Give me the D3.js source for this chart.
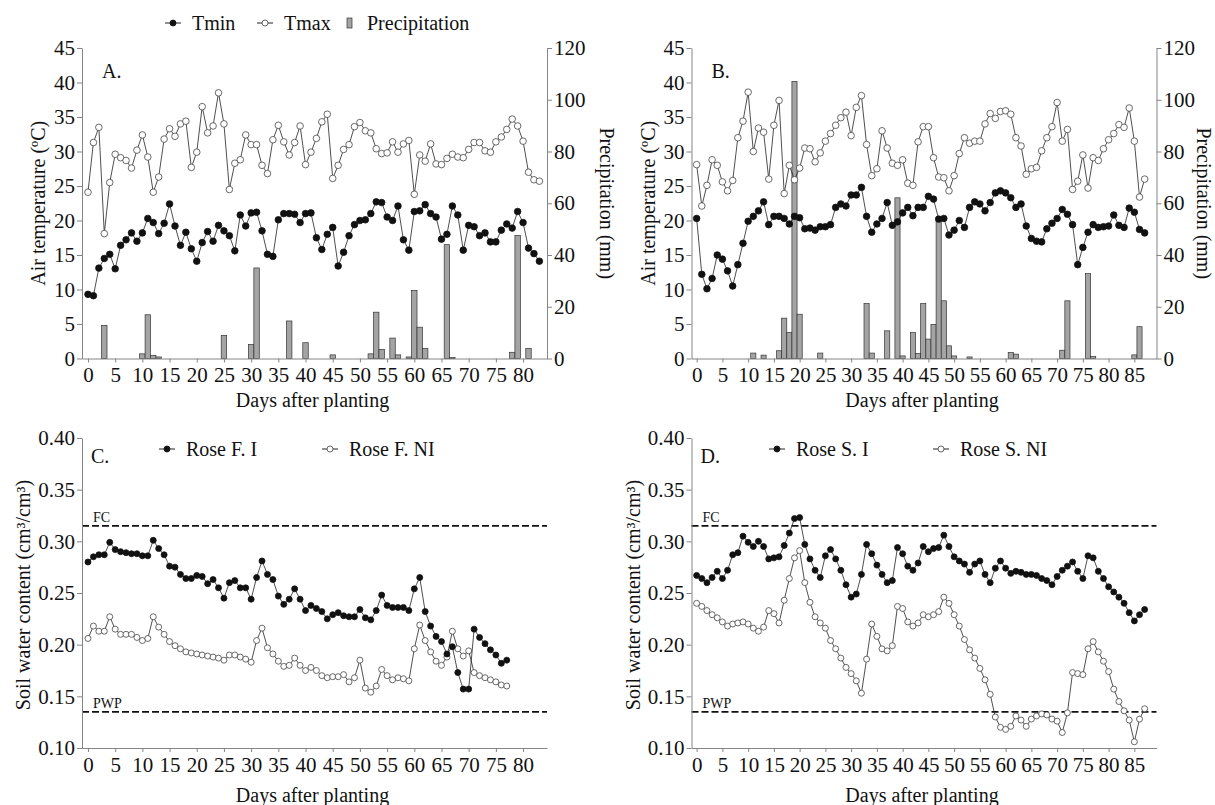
<!DOCTYPE html>
<html>
<head>
<meta charset="utf-8">
<script src="https://cdn.jsdelivr.net/npm/d3@7/dist/d3.min.js"></script>
<style>
  body { margin: 0; background: #fff; }
  svg, svg text { font-family: "Liberation Serif", Tinos, "Times New Roman", "DejaVu Serif", serif; fill: #111; }
</style>
</head>
<body>
<div id="chart"></div>
<script>
// ---- data, index = days after planting ----
const tminA = [9.3, 9.1, 13.1, 14.5, 15.1, 13.0, 16.4, 17.2, 18.2, 17.0,
  18.2, 20.3, 19.7, 18.1, 19.6, 22.4, 19.2, 16.4, 18.3, 15.9,
  14.1, 16.8, 18.4, 17.0, 19.3, 18.5, 17.8, 15.6, 20.8, 19.2,
  21.1, 21.2, 18.5, 15.1, 14.8, 20.1, 21.0, 21.0, 20.9, 19.7,
  21.0, 21.1, 17.5, 15.8, 18.0, 19.0, 13.4, 15.4, 17.8, 19.4,
  20.0, 20.1, 21.0, 22.7, 22.6, 20.5, 20.0, 22.1, 17.2, 15.7,
  21.3, 21.4, 22.3, 21.0, 20.5, 17.3, 18.0, 22.1, 20.8, 15.7,
  19.3, 19.1, 17.8, 18.2, 16.9, 16.9, 18.6, 19.5, 18.9, 21.3,
  19.7, 16.0, 15.2, 14.1];
const tmaxA = [24.1, 31.3, 33.5, 18.1, 25.5, 29.6, 29.1, 28.7, 27.6, 30.2,
  32.4, 29.2, 24.1, 26.3, 31.8, 33.3, 32.2, 34.0, 34.4, 27.7,
  29.9, 36.5, 32.7, 33.7, 38.5, 34.0, 24.5, 28.3, 28.8, 32.4,
  31.0, 31.0, 28.0, 26.8, 31.7, 33.8, 31.4, 29.5, 31.3, 33.7,
  28.1, 29.9, 31.9, 34.3, 35.4, 26.1, 28.0, 30.3, 31.0, 33.6,
  34.2, 33.0, 32.7, 30.4, 29.7, 29.8, 31.4, 29.9, 31.1, 31.6,
  23.8, 29.5, 28.6, 31.1, 28.2, 28.1, 29.0, 29.6, 29.2, 29.1,
  30.3, 31.3, 31.3, 30.1, 29.9, 31.4, 32.1, 33.2, 34.7, 33.7,
  31.5, 27.0, 25.9, 25.7];
const rainDaysA = [3, 10, 11, 12, 13, 25, 30, 31, 37, 40, 45, 52, 53, 54, 56, 57, 59, 60, 61, 62, 66, 67, 78, 79, 81];
const rainA = [12.8, 1.8, 16.9, 1.2, 0.6, 8.9, 5.4, 35.0, 14.5, 6.1, 1.4, 1.8, 17.9, 3.5, 7.9, 1.4, 0.6, 26.3, 12.1, 3.9, 44.0, 0.4, 2.4, 47.6, 3.9];

const tminB = [20.3, 12.2, 10.1, 11.6, 15.0, 14.4, 12.7, 10.5, 13.6, 16.7,
  19.9, 20.6, 21.4, 22.7, 19.4, 20.6, 20.6, 20.3, 19.5, 20.6,
  20.4, 18.8, 18.9, 18.6, 19.1, 19.1, 19.4, 21.9, 22.4, 22.1,
  23.7, 23.7, 24.8, 20.6, 18.3, 19.5, 20.3, 22.6, 19.3, 19.8,
  21.1, 21.9, 20.7, 21.9, 21.9, 23.5, 23.1, 20.2, 20.3, 17.9,
  18.6, 20.0, 19.0, 21.9, 22.7, 22.4, 21.4, 22.6, 24.0, 24.3,
  24.0, 23.3, 21.9, 22.4, 19.2, 17.4, 17.0, 16.9, 18.8, 19.6,
  20.3, 21.6, 20.9, 19.4, 13.6, 16.1, 18.3, 19.4, 19.0, 19.1,
  19.2, 20.8, 19.3, 19.0, 21.8, 21.2, 18.7, 18.2];
const tmaxB = [28.1, 22.1, 25.1, 28.8, 28.0, 25.6, 24.3, 25.8, 32.0, 34.4,
  38.6, 30.0, 33.4, 32.8, 26.0, 33.8, 37.4, 23.9, 28.0, 25.9,
  27.6, 30.5, 30.4, 28.5, 29.8, 31.5, 32.6, 33.8, 34.9, 35.7,
  32.3, 36.4, 38.1, 31.0, 26.5, 27.5, 33.0, 30.5, 28.3, 28.0,
  28.8, 25.4, 25.1, 31.4, 33.6, 33.6, 29.1, 26.3, 26.2, 24.3,
  26.5, 29.7, 32.0, 31.2, 31.5, 31.5, 34.0, 35.5, 34.8, 35.8,
  35.9, 35.4, 32.0, 30.8, 26.7, 27.5, 27.7, 30.1, 32.0, 33.6,
  37.1, 31.5, 33.2, 24.5, 25.7, 29.5, 24.7, 29.1, 28.7, 30.4,
  31.7, 32.6, 33.9, 33.5, 36.3, 31.5, 23.4, 26.0];
const rainDaysB = [11, 13, 16, 17, 18, 19, 20, 24, 33, 34, 37, 39, 40, 42, 43, 44, 45, 46, 47, 48, 49, 50, 53, 61, 62, 71, 72, 76, 77, 85, 86];
const rainB = [2.1, 1.3, 3.0, 15.6, 10.0, 107.1, 17.1, 2.1, 21.2, 2.1, 10.7, 62.1, 1.0, 10.0, 1.9, 21.2, 7.5, 13.2, 53.1, 22.3, 4.9, 1.0, 0.6, 2.3, 1.7, 3.2, 22.3, 32.8, 0.8, 1.4, 12.3];

const roseFI = [0.280, 0.285, 0.287, 0.287, 0.299, 0.292, 0.290, 0.289, 0.288, 0.288,
  0.286, 0.286, 0.301, 0.293, 0.287, 0.276, 0.275, 0.268, 0.264, 0.264,
  0.267, 0.266, 0.259, 0.263, 0.255, 0.245, 0.260, 0.262, 0.255, 0.255,
  0.244, 0.265, 0.281, 0.268, 0.263, 0.247, 0.239, 0.244, 0.254, 0.244,
  0.233, 0.238, 0.235, 0.232, 0.225, 0.229, 0.231, 0.228, 0.227, 0.227,
  0.234, 0.226, 0.224, 0.233, 0.248, 0.238, 0.236, 0.236, 0.236, 0.233,
  0.254, 0.265, 0.232, 0.218, 0.208, 0.203, 0.191, 0.198, 0.173, 0.157,
  0.157, 0.215, 0.207, 0.201, 0.195, 0.190, 0.182, 0.185];
const roseFNI = [0.206, 0.218, 0.213, 0.213, 0.227, 0.215, 0.210, 0.210, 0.210, 0.207,
  0.204, 0.206, 0.227, 0.217, 0.210, 0.203, 0.199, 0.196, 0.193, 0.192,
  0.191, 0.190, 0.189, 0.188, 0.187, 0.185, 0.190, 0.190, 0.188, 0.186,
  0.183, 0.204, 0.216, 0.197, 0.191, 0.184, 0.179, 0.180, 0.187, 0.180,
  0.175, 0.178, 0.175, 0.170, 0.168, 0.169, 0.169, 0.171, 0.164, 0.168,
  0.185, 0.158, 0.154, 0.160, 0.176, 0.170, 0.166, 0.168, 0.167, 0.165,
  0.196, 0.219, 0.204, 0.193, 0.184, 0.180, 0.188, 0.213, 0.196, 0.189,
  0.194, 0.173, 0.170, 0.168, 0.166, 0.164, 0.161, 0.160];
const roseSI = [0.267, 0.264, 0.260, 0.265, 0.271, 0.264, 0.272, 0.287, 0.289, 0.305,
  0.299, 0.295, 0.300, 0.295, 0.283, 0.284, 0.285, 0.296, 0.308, 0.322,
  0.323, 0.297, 0.283, 0.272, 0.265, 0.286, 0.292, 0.283, 0.272, 0.258,
  0.246, 0.249, 0.268, 0.297, 0.288, 0.277, 0.268, 0.260, 0.262, 0.294,
  0.288, 0.276, 0.272, 0.279, 0.295, 0.290, 0.293, 0.294, 0.306, 0.295,
  0.285, 0.281, 0.278, 0.270, 0.278, 0.281, 0.268, 0.260, 0.274, 0.281,
  0.274, 0.269, 0.271, 0.270, 0.268, 0.268, 0.267, 0.264, 0.262, 0.258,
  0.266, 0.272, 0.276, 0.280, 0.271, 0.264, 0.286, 0.284, 0.271, 0.264,
  0.256, 0.251, 0.246, 0.240, 0.231, 0.223, 0.229, 0.234];
const roseSNI = [0.240, 0.237, 0.233, 0.229, 0.226, 0.222, 0.218, 0.220, 0.221, 0.222,
  0.220, 0.216, 0.213, 0.217, 0.233, 0.230, 0.221, 0.243, 0.264, 0.284,
  0.291, 0.260, 0.241, 0.227, 0.221, 0.216, 0.204, 0.196, 0.187, 0.178,
  0.172, 0.165, 0.153, 0.186, 0.220, 0.208, 0.196, 0.194, 0.199, 0.237,
  0.235, 0.222, 0.218, 0.221, 0.229, 0.227, 0.229, 0.232, 0.246, 0.240,
  0.229, 0.218, 0.205, 0.195, 0.187, 0.177, 0.166, 0.152, 0.130, 0.120,
  0.118, 0.121, 0.131, 0.127, 0.121, 0.128, 0.131, 0.133, 0.132, 0.128,
  0.126, 0.115, 0.134, 0.173, 0.172, 0.171, 0.196, 0.203, 0.193, 0.184,
  0.174, 0.157, 0.145, 0.136, 0.127, 0.106, 0.128, 0.138];

const limitValues = [0.315, 0.135];
const limitNames = ["FC", "PWP"];

const tempTicks = [0, 5, 10, 15, 20, 25, 30, 35, 40, 45];
const rainTicks = [0, 20, 40, 60, 80, 100, 120];
const soilTicks = [0.10, 0.15, 0.20, 0.25, 0.30, 0.35, 0.40];
const dayTicksA = [0, 5, 10, 15, 20, 25, 30, 35, 40, 45, 50, 55, 60, 65, 70, 75, 80];
const dayTicksB = [0, 5, 10, 15, 20, 25, 30, 35, 40, 45, 50, 55, 60, 65, 70, 75, 80, 85];

// ---- drawing ----
const width = 1215, height = 805;
const serif = "'Liberation Serif', Tinos, 'Times New Roman', 'DejaVu Serif', serif";
const axisGrey = "#858585";
const barFill = "#a4a4a4";

const svg = d3.select("#chart").append("svg")
  .attr("width", width)
  .attr("height", height)
  .style("font-family", serif);

function styleAxis(g) {
  g.attr("font-family", null).attr("font-size", 21).style("font-family", serif);
  g.select(".domain").attr("stroke", axisGrey);
  g.selectAll(".tick line").attr("stroke", axisGrey);
  g.selectAll(".tick text").attr("fill", "#111").style("font-family", serif);
}

function xAxis(x, y0, ticks) {
  svg.append("g")
    .attr("transform", `translate(0,${y0})`)
    .call(d3.axisBottom(x).tickValues(ticks).tickSize(4).tickSizeOuter(0).tickPadding(5))
    .call(styleAxis);
}

function addText(str, x, y, size, rot, anchor) {
  return svg.append("text")
    .attr("transform", `translate(${x},${y}) rotate(${rot || 0})`)
    .attr("text-anchor", anchor || "start")
    .attr("font-size", size)
    .style("font-family", serif)
    .text(str);
}

function markerLegend(x, y, filled, label) {
  svg.append("line").attr("x1", x - 8).attr("x2", x + 8).attr("y1", y).attr("y2", y)
    .attr("stroke", "#222").attr("stroke-width", 1);
  svg.append("circle").attr("cx", x).attr("cy", y).attr("r", 3)
    .attr("fill", filled ? "#111" : "#fff")
    .attr("stroke", filled ? "#111" : "#444").attr("stroke-width", 0.8);
  addText(label, x + 19, y + 7, 20);
}

function series(g, x, y, values, filled, r) {
  const line = d3.line().x((d, i) => x(i)).y(d => y(d));
  g.append("path").datum(values)
    .attr("fill", "none").attr("stroke", "#222").attr("stroke-width", 0.8)
    .attr("d", line);
  g.selectAll(null).data(values).join("circle")
    .attr("cx", (d, i) => x(i)).attr("cy", d => y(d)).attr("r", r)
    .attr("fill", filled ? "#111" : "#fff")
    .attr("stroke", filled ? "#111" : "#444")
    .attr("stroke-width", 0.8);
}

function climatePanel(p) {
  const x = d3.scaleLinear().domain(p.xDomain).range([p.left, p.right]);
  const yT = d3.scaleLinear().domain([0, 45]).range([p.bottom, p.top]);
  const yP = d3.scaleLinear().domain([0, 120]).range([p.bottom, p.top]);
  const g = svg.append("g");
  const bw = x(1) - x(0);

  g.selectAll("rect").data(d3.zip(p.rainDays, p.rain)).join("rect")
    .attr("x", d => x(d[0]) - bw / 2)
    .attr("y", d => yP(d[1]))
    .attr("width", bw)
    .attr("height", d => yP(0) - yP(d[1]))
    .attr("fill", barFill)
    .attr("stroke", "#333")
    .attr("stroke-width", 0.7);

  series(g, x, yT, p.tmax, false, 3.3);
  series(g, x, yT, p.tmin, true, 3.3);

  svg.append("g").attr("transform", `translate(${p.left},0)`)
    .call(d3.axisLeft(yT).tickValues(tempTicks).tickSize(5).tickSizeOuter(0).tickPadding(2))
    .call(styleAxis);
  svg.append("g").attr("transform", `translate(${p.right},0)`)
    .call(d3.axisRight(yP).tickValues(rainTicks).tickSize(5).tickSizeOuter(0).tickPadding(2))
    .call(styleAxis);
  xAxis(x, p.bottom, p.dayTicks);

  addText(p.label, p.left + 20, 78, 20);
  addText("Air temperature (ºC)", p.left - 37, (p.top + p.bottom) / 2, 20, -90, "middle");
  addText("Precipitation (mm)", p.rightTitleX, (p.top + p.bottom) / 2, 20, 90, "middle");
  addText("Days after planting", (p.left + p.right) / 2 - 2, 407, 20, 0, "middle");
}

function soilPanel(p) {
  const x = d3.scaleLinear().domain(p.xDomain).range([p.left, p.right]);
  const y = d3.scaleLinear().domain([0.10, 0.40]).range([p.bottom, p.top]);
  const g = svg.append("g");

  limitValues.forEach((v, i) => {
    g.append("line")
      .attr("x1", p.left).attr("x2", p.right)
      .attr("y1", y(v)).attr("y2", y(v))
      .attr("stroke", "#111").attr("stroke-width", 1.8)
      .attr("stroke-dasharray", "7,3");
    addText(limitNames[i], p.left + 11, y(v) - 4, 14);
  });

  series(g, x, y, p.ni, false, 3.0);
  series(g, x, y, p.irr, true, 3.0);

  svg.append("g").attr("transform", `translate(${p.left},0)`)
    .call(d3.axisLeft(y).tickValues(soilTicks).tickFormat(d3.format(".2f"))
      .tickSize(5).tickSizeOuter(0).tickPadding(2))
    .call(styleAxis);
  xAxis(x, p.bottom, p.dayTicks);

  addText(p.label, p.left + 9, p.top + 25, 20);
  addText("Soil water content (cm³/cm³)", p.titleX, (p.top + p.bottom) / 2 + 2, 20, -90, "middle");
  addText("Days after planting", (p.left + p.right) / 2 - 2, 802, 20, 0, "middle");

  markerLegend(p.leg1, p.top + 11, true, p.names[0]);
  markerLegend(p.leg2, p.top + 11, false, p.names[1]);
}

// top legend
markerLegend(173, 23, true, "Tmin");
markerLegend(265, 23, false, "Tmax");
svg.append("rect").attr("x", 347).attr("y", 18).attr("width", 5).attr("height", 10)
  .attr("fill", barFill).attr("stroke", "#333").attr("stroke-width", 0.7);
addText("Precipitation", 367, 30, 20);

climatePanel({
  left: 82, right: 547, top: 48, bottom: 358.5, xDomain: [-1.1, 84.4],
  tmin: tminA, tmax: tmaxA, rainDays: rainDaysA, rain: rainA,
  dayTicks: dayTicksA, label: "A.", rightTitleX: 600
});
climatePanel({
  left: 691.5, right: 1156.5, top: 48, bottom: 358.5, xDomain: [-1, 89.3],
  tmin: tminB, tmax: tmaxB, rainDays: rainDaysB, rain: rainB,
  dayTicks: dayTicksB, label: "B.", rightTitleX: 1197
});
soilPanel({
  left: 82, right: 547, top: 438, bottom: 748, xDomain: [-1.1, 84.4],
  irr: roseFI, ni: roseFNI, dayTicks: dayTicksA, label: "C.",
  titleX: 30, leg1: 167, leg2: 330, names: ["Rose F. I", "Rose F. NI"]
});
soilPanel({
  left: 691.5, right: 1156.5, top: 438, bottom: 748, xDomain: [-1, 89.3],
  irr: roseSI, ni: roseSNI, dayTicks: dayTicksB, label: "D.",
  titleX: 640, leg1: 777, leg2: 941, names: ["Rose S. I", "Rose S. NI"]
});
</script>
</body>
</html>
